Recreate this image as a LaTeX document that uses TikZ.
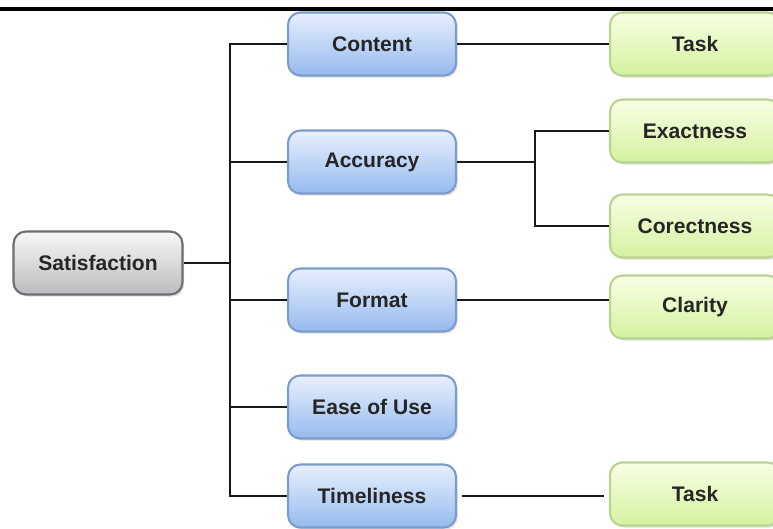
\documentclass[tikz,border=0pt]{standalone}
\usepackage{fontspec}
\setmainfont{Liberation Sans}
\usetikzlibrary{shadows}

\definecolor{greytop}{RGB}{248,248,248}
\definecolor{greybot}{RGB}{188,188,192}
\definecolor{greyline}{RGB}{110,110,115}
\definecolor{bluetop}{RGB}{232,240,253}
\definecolor{bluebot}{RGB}{150,186,238}
\definecolor{blueline}{RGB}{125,155,205}
\definecolor{greentop}{RGB}{248,255,228}
\definecolor{greenbot}{RGB}{212,242,160}
\definecolor{greenline}{RGB}{185,212,145}

\tikzset{
  box/.style={draw, line width=1.2pt, rounded corners=7pt, minimum height=1.26cm,
    font=\fontsize{12}{14}\selectfont\bfseries, text=black!85,
    drop shadow={opacity=0.25, shadow xshift=1pt, shadow yshift=-1.2pt}},
  rootbox/.style={box, minimum width=3.38cm, draw=greyline, top color=greytop, bottom color=greybot},
  mainbox/.style={box, minimum width=3.36cm, draw=blueline, top color=bluetop, bottom color=bluebot},
  leafbox/.style={box, minimum width=3.4cm, draw=greenline, top color=greentop, bottom color=greenbot},
  link/.style={line width=1.6pt, black!90}
}

\begin{document}
\begin{tikzpicture}[x=0.02cm, y=-0.02cm]
      \useasboundingbox (0,0) rectangle (773,528);
      \clip (0,0) rectangle (773,528);
      \draw[line width=2.2pt] (0,9) -- (773,9);
      \path
        (98,263) node[rootbox] (sat){Satisfaction}
        (372,44) node[mainbox] (content){Content}
        (372,162) node[mainbox] (acc){Accuracy}
        (372,300) node[mainbox] (format){Format}
        (372,407) node[mainbox] (ease){Ease of Use}
        (372,496) node[mainbox] (time){Timeliness}
        (695,44) node[leafbox] (task1){Task}
        (695,131) node[leafbox] (exact){Exactness}
        (695,226) node[leafbox] (corect){Corectness}
        (695,307) node[leafbox] (clarity){Clarity}
        (695,494) node[leafbox] (task2){Task};
      \coordinate (trunk) at (230,263);
      \coordinate (fork) at (535,162);
      \begin{scope}[link]
        \draw (sat) -- (trunk);
        \draw (content.west) -| (trunk);
        \draw (acc.west) -| (trunk);
        \draw (format.west) -| (trunk);
        \draw (ease.west) -| (trunk);
        \draw (time.west) -| (trunk);
        \draw (content) -- (task1);
        \draw (acc) -- (fork);
        \draw (exact.west) -| (fork);
        \draw (corect.west) -| (fork);
        \draw (format.east) -- (format.east -| clarity.west);
        \draw[shorten <=3pt, shorten >=3pt] (time.east) -- (time.east -| task2.west);
      \end{scope}
    \end{tikzpicture}
\end{document}
